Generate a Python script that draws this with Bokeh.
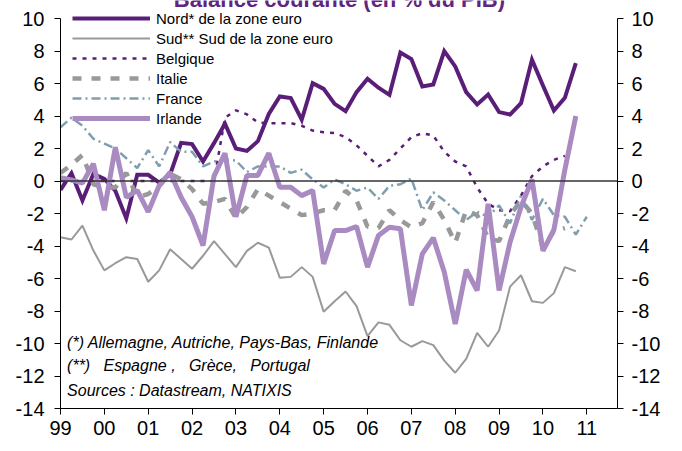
from bokeh.plotting import figure
from bokeh.models import LinearAxis, FixedTicker, Range1d, Span, Legend, LegendItem, Label
from bokeh.embed import file_html
from bokeh.resources import INLINE

# ---- data (quarterly, % of GDP) ----
start_year = 1999
quarter_step = 0.25

nord = [-0.55, 0.48, -1.2, 0.44, 0.13, -0.6, -2.3, 0.38, 0.38, -0.1, 0.4, 2.35,
        2.27, 1.2, 2.33, 3.52, 2.0, 1.85, 2.45, 4.13, 5.2, 5.1, 3.77, 6.02,
        5.67, 4.75, 4.3, 5.47, 6.29, 5.74, 5.3, 7.9, 7.5, 5.82, 5.94, 7.99,
        7.05, 5.47, 4.71, 5.32, 4.24, 4.09, 4.79, 7.46, 5.88, 4.34, 5.12, 7.25]
sud = [-3.46, -3.6, -2.74, -4.28, -5.5, -5.06, -4.69, -4.8, -6.2, -5.5, -4.2, -4.8,
       -5.4, -4.6, -3.7, -4.5, -5.3, -4.3, -3.8, -4.1, -5.95, -5.9, -5.3, -5.9,
       -8.05, -7.4, -6.8, -7.7, -9.55, -8.7, -8.85, -9.8, -10.2, -9.85, -10.1, -11.05,
       -11.8, -10.95, -9.35, -10.2, -9.2, -6.5, -5.8, -7.4, -7.5, -6.9, -5.3, -5.55]
belgique = [0, 0, 0, 0, 0, 0, 0, 0, 0, 0, 0, 0, 0, 0, 0, 3.9,
            4.35, 4.1, 3.6, 3.56, 3.56, 3.56, 3.4, 3.1, 3.0, 2.95, 2.7, 2.2,
            1.55, 0.9, 1.3, 2.0, 2.7, 2.94, 2.8, 1.8, 1.2, 0.9, -0.4, -1.4,
            -1.8, -1.86, -0.9, 0.3, 0.9, 1.3, 1.55]
italie = [0.5, 1.0, 1.6, -0.2, -0.4, -0.4, 0.5, -1.0, -0.8, -0.3, 0.44, 0.1,
          -0.5, -1.4, -1.3, -1.1, -2.3, -1.6, -0.5, -0.9, -1.3, -1.7, -2.1, -2.0,
          -1.8, -1.8, -0.6, -1.2, -2.8, -2.9, -1.8, -2.4, -2.85, -2.6, -1.3, -2.4,
          -3.8, -1.8, -2.1, -3.5, -3.7, -2.1, -1.2, -2.0, -4.1, -3.1, -2.9]
france = [3.3, 3.9, 3.4, 2.6, 2.3, 2.0, 1.4, 0.8, 1.9, 0.9, 2.4, 1.8,
          1.8, 0.9, 1.2, 1.3, 1.26, 0.55, 0.9, 0.9, 0.9, 0.5, 0.7, 0.1,
          -0.4, 0.1, -0.2, -0.6, -0.4, -1.1, -0.3, -0.2, 0.15, -1.8, -0.7, -1.2,
          -1.8, -2.4, -1.9, -2.2, -1.5, -2.6, -0.9, -2.4, -1.1, -2.1, -2.2, -3.3, -2.2]
irlande = [0.2, 0.07, -0.13, 1.06, -1.8, 2.08, -1.0, -0.58, -1.9, -0.28, 0.54, -1.0,
           -2.2, -3.97, 0.3, 1.71, -2.2, 0.34, 0.34, 1.71, -0.38, -0.38, -0.9, -0.58,
           -5.1, -3.05, -3.05, -2.8, -5.3, -3.35, -2.84, -2.94, -7.66, -4.48, -3.5, -5.6,
           -8.8, -5.46, -6.74, -1.4, -6.74, -3.77, -1.6, 0.1, -4.3, -3.0, 0.7, 4.0]

y_ticks = [-14, -12, -10, -8, -6, -4, -2, 0, 2, 4, 6, 8, 10]
y_tick_labels = ["-14", "-12", "-10", "-8", "-6", "-4", "-2", "0", "2", "4", "6", "8", "10"]
x_tick_years = [1999, 2000, 2001, 2002, 2003, 2004, 2005, 2006, 2007, 2008, 2009, 2010, 2011]
x_tick_labels = ["99", "00", "01", "02", "03", "04", "05", "06", "07", "08", "09", "10", "11"]

series_names = ["Nord* de la zone euro", "Sud** Sud de la zone euro", "Belgique",
                "Italie", "France", "Irlande"]
title_text = "Balance courante (en % du PIB)"
notes = ["(*) Allemagne, Autriche, Pays-Bas, Finlande",
         "(**)\u00a0\u00a0 Espagne ,\u00a0\u00a0 Grèce,\u00a0\u00a0 Portugal",
         "Sources : Datastream, NATIXIS"]


def xs(vals):
    return [start_year + i * quarter_step for i in range(len(vals))]


FONT = "Liberation Sans"
PURPLE = "#5B1E78"
Y_MIN, Y_MAX = -14, 10
Y_TOP_PAD = 1.108  # headroom above the 10 tick (title/legend area)

p = figure(width=666, height=443, output_backend="svg", toolbar_location=None,
           x_range=Range1d(1999, 2011.70), y_range=Range1d(Y_MIN, Y_MAX + Y_TOP_PAD),
           x_axis_type=None, y_axis_type=None,
           min_border_left=60, min_border_right=49, min_border_top=0, min_border_bottom=35)
p.outline_line_color = None
p.background_fill_color = "white"
p.border_fill_color = "white"


def style_axis(ax, standoff):
    ax.axis_line_color = "black"
    ax.axis_line_width = 1
    ax.major_tick_line_color = "black"
    ax.major_tick_out = 6
    ax.major_tick_in = 0
    ax.minor_tick_out = 0
    ax.minor_tick_in = 0
    ax.major_label_text_font = FONT
    ax.major_label_text_font_size = "20px"
    ax.major_label_text_color = "black"
    ax.major_label_standoff = standoff


xa = LinearAxis(ticker=FixedTicker(ticks=x_tick_years),
                major_label_overrides={float(y): l for y, l in zip(x_tick_years, x_tick_labels)})
style_axis(xa, 6)
p.add_layout(xa, "below")

y_over = {float(v): l for v, l in zip(y_ticks, y_tick_labels)}
ya = LinearAxis(ticker=FixedTicker(ticks=y_ticks), major_label_overrides=y_over,
                bounds=(Y_MIN, Y_MAX))
style_axis(ya, 10)
p.add_layout(ya, "left")
ya2 = LinearAxis(ticker=FixedTicker(ticks=y_ticks), major_label_overrides=y_over,
                 bounds=(Y_MIN, Y_MAX))
style_axis(ya2, 8)
p.add_layout(ya2, "right")

p.add_layout(Span(location=0, dimension="width", line_color="#333333", line_width=1.5))

r_nord = p.line(xs(nord), nord, line_color=PURPLE, line_width=4, line_join="miter")
r_sud = p.line(xs(sud), sud, line_color="#999999", line_width=2)
r_bel = p.line(xs(belgique), belgique, line_color=PURPLE, line_width=2.5, line_dash="4 6")
r_ita = p.line(xs(italie), italie, line_color="#999999", line_width=4.5, line_dash="9 10")
r_fra = p.line(xs(france), france, line_color="#7F9FAF", line_width=2.5, line_dash="9 4 2 4")
r_irl = p.line(xs(irlande), irlande, line_color="#A98BC1", line_width=5)

renderers = [r_nord, r_sud, r_bel, r_ita, r_fra, r_irl]
legend = Legend(items=[LegendItem(label=n, renderers=[r]) for n, r in zip(series_names, renderers)],
                location=(12, 280), orientation="vertical",
                glyph_width=78, glyph_height=20, label_height=20, label_standoff=6,
                spacing=0, padding=0, margin=0,
                label_text_font=FONT, label_text_font_size="15px", label_text_color="black",
                background_fill_alpha=0, border_line_color=None)
p.add_layout(legend)

p.add_layout(Label(x=2005.36, y=11.14, text=title_text, text_align="center",
                   text_baseline="alphabetic", text_font=FONT, text_font_size="22px",
                   text_font_style="bold", text_color="#5F2580"))

for txt, yv in zip(notes, [-9.94, -11.35, -12.89]):
    p.add_layout(Label(x=1999.15, y=yv, text=txt, text_align="left", text_baseline="middle",
                       text_font=FONT, text_font_size="16px", text_font_style="italic",
                       text_color="black"))

open("out.html", "w").write(file_html(p, INLINE))
